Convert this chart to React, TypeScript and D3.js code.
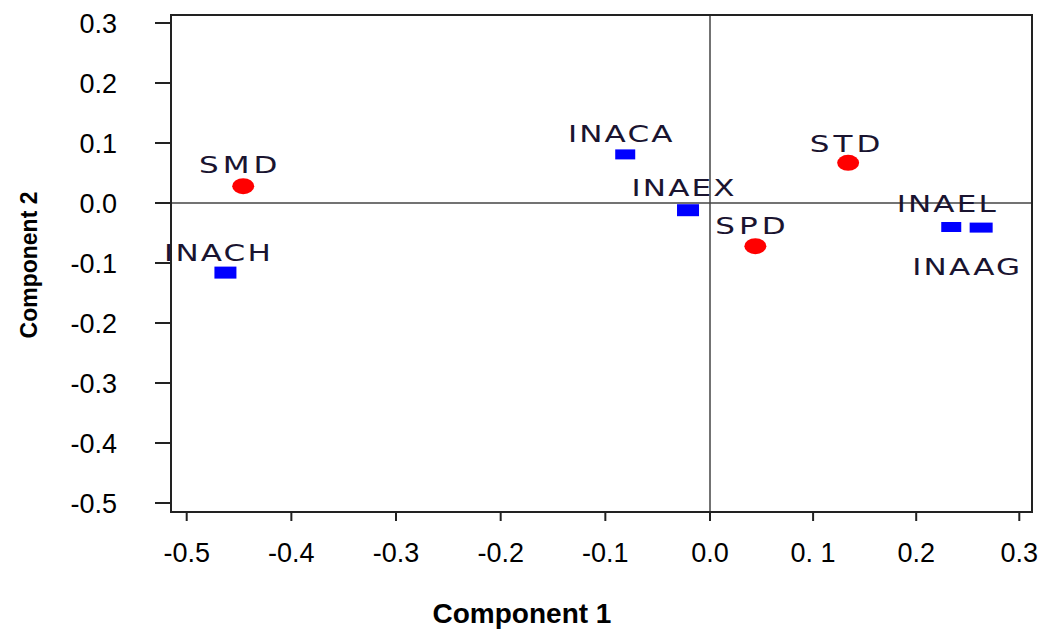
import React from "react";
import * as d3 from "d3";

const W = 1043;
const H = 632;

// Data
const variables = ["INACH", "INACA", "INAEX", "INAEL", "INAAG"];
const varX = [-0.463, -0.081, -0.021, 0.234, 0.263];
const varY = [-0.116, 0.081, -0.012, -0.04, -0.041];

const groups = ["SMD", "SPD", "STD"];
const grpX = [-0.446, 0.044, 0.134];
const grpY = [0.028, -0.072, 0.067];

const xTicks = [-0.5, -0.4, -0.3, -0.2, -0.1, 0.0, 0.1, 0.2, 0.3];
const xTickLabels = ["-0.5", "-0.4", "-0.3", "-0.2", "-0.1", "0.0", "0. 1", "0.2", "0.3"];
const yTicks = [0.3, 0.2, 0.1, 0.0, -0.1, -0.2, -0.3, -0.4, -0.5];
const yTickLabels = ["0.3", "0.2", "0.1", "0.0", "-0.1", "-0.2", "-0.3", "-0.4", "-0.5"];

// label offsets (styling): [dx of text centre, dy of baseline]
const labelOffset: Record<string, [number, number]> = {
  SMD: [-5, -13],
  SPD: [-5, -12],
  STD: [-3, -11],
  INACH: [-8, -12],
  INACA: [-5, -12],
  INAEX: [-5, -14],
  INAEL: [-5, -15],
  INAAG: [-15, 47],
};

const x = d3.scaleLinear().domain([-0.5, 0, 0.3]).range([186.7, 710, 1019.3]);
const y = d3.scaleLinear().domain([0.3, -0.5]).range([23, 503]);

const frame = { left: 171, right: 1032, top: 15, bottom: 512 };

export default function App() {
  const tickFont = "'Liberation Sans', Arial, sans-serif";
  const labelFont = "'DejaVu Sans', Verdana, sans-serif";
  const varSpacing = 1.6;
  const grpSpacing = 3;
  const sx = 1.35;
  return (
    <svg width={W} height={H} style={{ position: "absolute", left: 0, top: 0, background: "#fff" }}>
      <rect x={0} y={0} width={W} height={H} fill="#fff" />
      {/* zero lines */}
      <line x1={frame.left} x2={frame.right} y1={y(0)} y2={y(0)} stroke="#444" strokeWidth={1.5} />
      <line x1={x(0)} x2={x(0)} y1={frame.top} y2={frame.bottom} stroke="#444" strokeWidth={1.5} />
      {/* frame */}
      <rect
        x={frame.left}
        y={frame.top}
        width={frame.right - frame.left}
        height={frame.bottom - frame.top}
        fill="none"
        stroke="#222"
        strokeWidth={2}
      />
      {/* y ticks */}
      {yTicks.map((t, i) => (
        <g key={"y" + i}>
          <line x1={155} x2={frame.left} y1={y(t)} y2={y(t)} stroke="#222" strokeWidth={2} />
          <text
            x={117}
            y={y(t)}
            dy="0.36em"
            textAnchor="end"
            fontFamily={tickFont}
            fontSize={27}
            fill="#000"
          >
            {yTickLabels[i]}
          </text>
        </g>
      ))}
      {/* x ticks */}
      {xTicks.map((t, i) => (
        <g key={"x" + i}>
          <line x1={x(t)} x2={x(t)} y1={frame.bottom} y2={frame.bottom + 9} stroke="#222" strokeWidth={2} />
          <text
            x={x(t)}
            y={562}
            textAnchor="middle"
            fontFamily={tickFont}
            fontSize={27}
            fill="#000"
          >
            {xTickLabels[i]}
          </text>
        </g>
      ))}
      {/* axis titles */}
      <text
        x={522}
        y={623}
        textAnchor="middle"
        fontFamily={tickFont}
        fontWeight="bold"
        fontSize={28}
        fill="#000"
      >
        Component 1
      </text>
      <text
        transform={`translate(37,${265}) rotate(-90)`}
        textAnchor="middle"
        fontFamily={tickFont}
        fontWeight="bold"
        fontSize={23}
        fill="#000"
      >
        Component 2
      </text>
      {/* variable markers */}
      {variables.map((v, i) => {
        const big = v === "INAEX" || v === "INACH";
        const w = v === "INAAG" ? 23 : big ? 22 : 20;
        const h = big ? 12 : 10;
        return (
          <rect
            key={v}
            x={x(varX[i]) - w / 2}
            y={y(varY[i]) - h / 2}
            width={w}
            height={h}
            fill="#0000ff"
          />
        );
      })}
      {/* group markers */}
      {groups.map((g, i) => (
        <ellipse key={g} cx={x(grpX[i])} cy={y(grpY[i])} rx={11} ry={8} fill="#ff0000" />
      ))}
      {/* labels */}
      {variables.map((v, i) => (
        <text
          key={"l" + v}
          transform={`translate(${x(varX[i]) + labelOffset[v][0]},${y(varY[i]) + labelOffset[v][1]}) scale(${sx},1)`}
          dx={varSpacing / 2}
          textAnchor="middle"
          fontFamily={labelFont}
          fontSize={23}
          letterSpacing={varSpacing}
          fill="#1a1430"
        >
          {v}
        </text>
      ))}
      {groups.map((g, i) => (
        <text
          key={"l" + g}
          transform={`translate(${x(grpX[i]) + labelOffset[g][0]},${y(grpY[i]) + labelOffset[g][1]}) scale(${sx},1)`}
          dx={grpSpacing / 2}
          textAnchor="middle"
          fontFamily={labelFont}
          fontSize={23}
          letterSpacing={grpSpacing}
          fill="#1a1430"
        >
          {g}
        </text>
      ))}
    </svg>
  );
}
